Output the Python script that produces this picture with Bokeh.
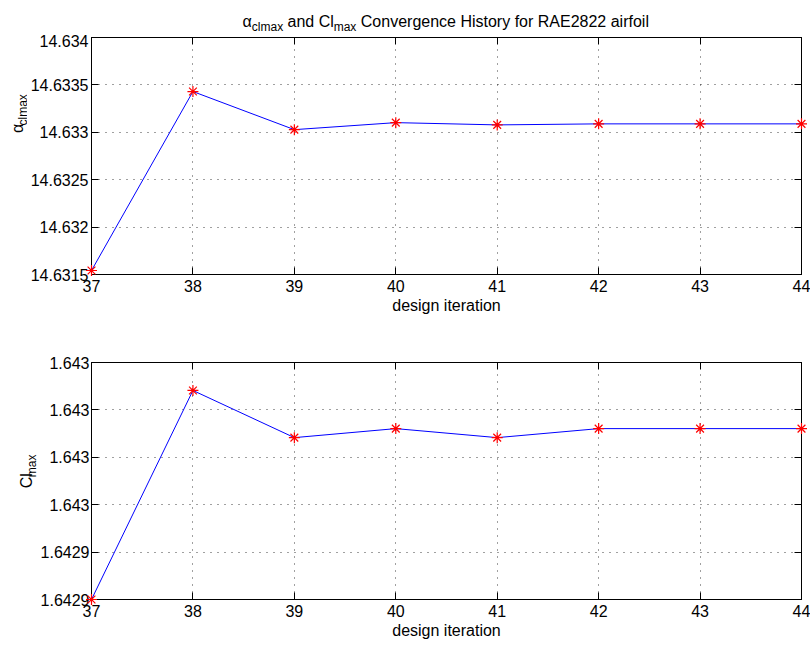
import math
from bokeh.plotting import figure
from bokeh.layouts import column, row
from bokeh.models import Range1d, FixedTicker, LinearAxis, ColumnDataSource
from bokeh.core.properties import value
from bokeh.embed import file_html
from bokeh.resources import INLINE

# ---------------- data ----------------
iterations = [37, 38, 39, 40, 41, 42, 43, 44]
alpha_clmax = [14.631542, 14.633430, 14.633028, 14.633102, 14.633078, 14.633089, 14.633089, 14.633089]
cl_max = [1.642920, 1.6430082, 1.6429883, 1.6429921, 1.6429883, 1.6429921, 1.6429921, 1.6429921]

x_ticks = [37, 38, 39, 40, 41, 42, 43, 44]
x_tick_labels = ["37", "38", "39", "40", "41", "42", "43", "44"]
alpha_ticks = [14.6315, 14.632, 14.6325, 14.633, 14.6335, 14.634]
alpha_tick_labels = ["14.6315", "14.632", "14.6325", "14.633", "14.6335", "14.634"]
cl_ticks = [1.64292, 1.64294, 1.64296, 1.64298, 1.643, 1.64302]
cl_tick_labels = ["1.6429", "1.6429", "1.643", "1.643", "1.643", "1.643"]

FONT = "Liberation Sans"
FS = "16px"
SUB = "12px"

W = 810
FRAME_W = 713
FRAME_H = 237
RIGHT = 9
TITLE_H = 34


def make_panel(xs, ys, yticks, ylabels, width, left, top, bottom, standoff):
    p = figure(width=width, height=top + FRAME_H + bottom, output_backend="svg",
               toolbar_location=None,
               x_range=Range1d(37, 44), y_range=Range1d(yticks[0], yticks[-1]),
               min_border_left=left, min_border_right=RIGHT,
               min_border_top=top, min_border_bottom=bottom)
    p.title = None
    p.background_fill_color = "white"
    p.border_fill_color = "white"
    p.outline_line_color = "black"
    p.outline_line_width = 1

    xt = FixedTicker(ticks=x_ticks)
    yt = FixedTicker(ticks=yticks)
    p.xaxis.ticker = xt
    p.yaxis.ticker = yt
    p.xaxis.major_label_overrides = {t: l for t, l in zip(x_ticks, x_tick_labels)}
    p.yaxis.major_label_overrides = {t: l for t, l in zip(yticks, ylabels)}
    for ax in (p.xaxis[0], p.yaxis[0]):
        ax.major_tick_in = 7
        ax.major_tick_out = 0
        ax.minor_tick_line_color = None
        ax.axis_line_color = "black"
        ax.major_tick_line_color = "black"
        ax.major_label_text_font = FONT
        ax.major_label_text_font_size = FS
        ax.major_label_text_color = "black"
        ax.axis_label_text_font = FONT
        ax.axis_label_text_font_size = FS
        ax.axis_label_text_font_style = "normal"
        ax.axis_label_text_color = "black"
    p.xaxis.major_label_standoff = 5
    p.yaxis.major_label_standoff = standoff
    p.xaxis.axis_label = "design iteration"
    p.xaxis.axis_label_standoff = 2

    top_ax = LinearAxis(ticker=FixedTicker(ticks=x_ticks), major_tick_in=7, major_tick_out=0,
                        minor_tick_line_color=None, major_label_text_font_size="0px",
                        major_label_text_color=None, major_label_standoff=0,
                        axis_line_color="black")
    right_ax = LinearAxis(ticker=FixedTicker(ticks=yticks), major_tick_in=7, major_tick_out=0,
                          minor_tick_line_color=None, major_label_text_font_size="0px",
                          major_label_text_color=None, major_label_standoff=0,
                          axis_line_color="black")
    p.add_layout(top_ax, "above")
    p.add_layout(right_ax, "right")

    p.xgrid.ticker = xt
    p.ygrid.ticker = yt
    for g in (p.xgrid[0], p.ygrid[0]):
        g.grid_line_color = "black"
        g.grid_line_alpha = 0.75
        g.grid_line_dash = "1 6"
        g.grid_line_width = 1

    src = ColumnDataSource(dict(x=xs, y=ys))
    p.line("x", "y", source=src, line_color="#0000ff", line_width=1, level="overlay")
    p.scatter("x", "y", source=src, marker="asterisk", size=11,
              line_color="#ff0000", line_width=1.2, level="overlay")
    return p


def text_fig(width, height):
    """A blank figure whose data coordinates equal its pixel coordinates."""
    f = figure(width=width, height=height, output_backend="svg", toolbar_location=None,
               x_range=Range1d(0, width), y_range=Range1d(0, height),
               x_axis_location=None, y_axis_location=None,
               min_border=0, min_border_left=0, min_border_right=0,
               min_border_top=0, min_border_bottom=0)
    f.title = None
    f.grid.visible = False
    f.outline_line_color = None
    f.background_fill_color = "white"
    f.border_fill_color = "white"
    return f


def put(f, text, x, y_from_top, size=FS, angle=0.0):
    y = f.height - y_from_top
    f.text(x=[x], y=[y], text=[text], text_font=value(FONT), text_font_size=value(size),
           text_color="black", text_align="left", text_baseline="alphabetic", angle=angle,
           level="overlay")


# ---- title strip ----
title_fig = text_fig(W, TITLE_H)
tx = 242
put(title_fig, "α", tx, 21)
put(title_fig, "clmax", tx + 9.3, 26, SUB)
put(title_fig, "and Cl", tx + 45, 21)
put(title_fig, "max", tx + 91.2, 26, SUB)
put(title_fig, "Convergence History for RAE2822 airfoil", tx + 118.3, 21)

# ---- upper panel ----
YL1 = 27
top1 = 37 - TITLE_H
p1 = make_panel(iterations, alpha_clmax, alpha_ticks, alpha_tick_labels,
                W - YL1, 88 - YL1, top1, 50, 3)
yl1 = text_fig(YL1, top1 + FRAME_H + 50)
put(yl1, "α", 16.5, 151 - TITLE_H, angle=math.pi / 2)
put(yl1, "clmax", 22.5, 141.7 - TITLE_H, SUB, angle=math.pi / 2)

# ---- lower panel ----
YL2 = 37
p2 = make_panel(iterations, cl_max, cl_ticks, cl_tick_labels,
                W - YL2, 88 - YL2, 38, 49, 2)
yl2 = text_fig(YL2, 38 + FRAME_H + 49)
put(yl2, "Cl", 26, 172, angle=math.pi / 2)
put(yl2, "max", 31.5, 156.9, SUB, angle=math.pi / 2)

layout = column(title_fig, row(yl1, p1, spacing=0), row(yl2, p2, spacing=0), spacing=0)
open("out.html", "w").write(file_html(layout, INLINE))
